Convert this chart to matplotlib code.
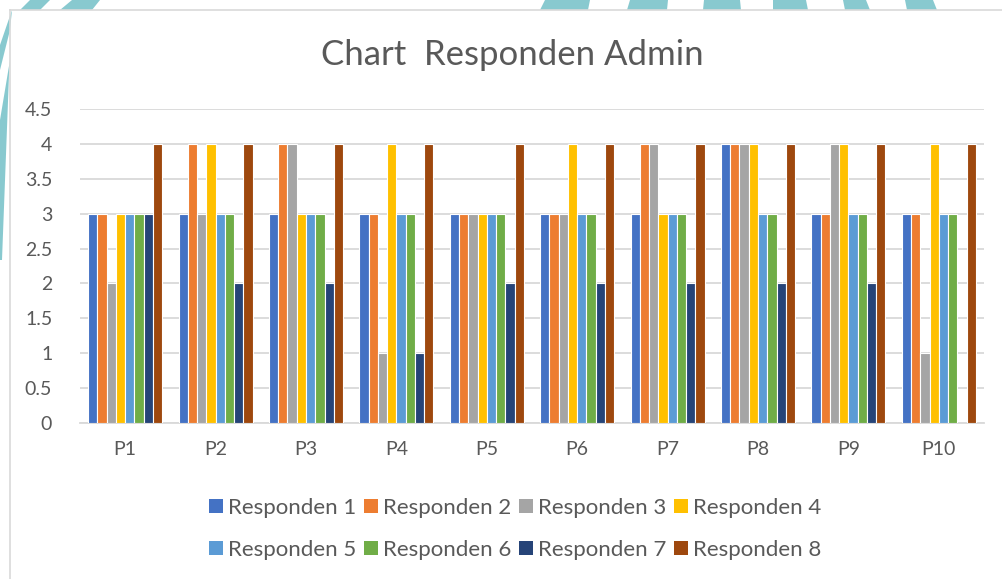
"""Chart Responden Admin: clustered bar chart (Excel style)."""

import matplotlib

matplotlib.use("Agg")
import matplotlib.pyplot as plt
import numpy as np
from matplotlib.patches import Polygon

CATEGORIES = ["P1", "P2", "P3", "P4", "P5", "P6", "P7", "P8", "P9", "P10"]
SERIES_NAMES = [f"Responden {i}" for i in range(1, 9)]

RESPONDEN_1 = [3, 3, 3, 3, 3, 3, 3, 4, 3, 3]
RESPONDEN_2 = [3, 4, 4, 3, 3, 3, 4, 4, 3, 3]
RESPONDEN_3 = [2, 3, 4, 1, 3, 3, 4, 4, 4, 1]
RESPONDEN_4 = [3, 4, 3, 4, 3, 4, 3, 4, 4, 4]
RESPONDEN_5 = [3, 3, 3, 3, 3, 3, 3, 3, 3, 3]
RESPONDEN_6 = [3, 3, 3, 3, 3, 3, 3, 3, 3, 3]
RESPONDEN_7 = [3, 2, 2, 1, 2, 2, 2, 2, 2, 0]
RESPONDEN_8 = [4, 4, 4, 4, 4, 4, 4, 4, 4, 4]

SERIES = [RESPONDEN_1, RESPONDEN_2, RESPONDEN_3, RESPONDEN_4,
          RESPONDEN_5, RESPONDEN_6, RESPONDEN_7, RESPONDEN_8]
COLORS = ["#4472C4", "#ED7D31", "#A5A5A5", "#FFC000",
          "#5B9BD5", "#70AD47", "#264478", "#9E480E"]

TEXT_COLOR = "#595959"
GRID_COLOR = "#D9D9D9"

plt.rcParams["font.family"] = ["Lato", "DejaVu Sans"]

fig = plt.figure(figsize=(10.03, 5.79), dpi=100)

# decorative teal stripes from the page behind the chart
W, H = 1003, 579
stripes = [
    [(20, 10), (30, 0), (50, 0), (40, 10)],
    [(60, 10), (72, 0), (100, 0), (92, 10)],
    [(540, 10), (545, 0), (590, 0), (588, 10)],
    [(627, 10), (630, 0), (668, 0), (667, 10)],
    [(703, 10), (704, 0), (740, 0), (741, 10)],
    [(773, 10), (773, 0), (806, 0), (808, 10)],
    [(845, 10), (843, 0), (866, 0), (870, 10)],
    [(907, 10), (905, 0), (933, 0), (937, 10)],
    [(0, 45), (12, 10), (10, 30), (0, 70)],
    [(0, 120), (10, 60), (9, 75), (2, 260), (0, 260)],
]
for pts in stripes:
    fig.patches.append(Polygon([(x / W, 1 - y / H) for x, y in pts],
                               closed=True, transform=fig.transFigure,
                               facecolor="#6BBCC4", edgecolor="none",
                               alpha=0.8, zorder=0))

# chart frame
fig.add_artist(plt.Line2D([10 / W, 10 / W], [0, 1 - 10 / H],
                          transform=fig.transFigure, color=GRID_COLOR, lw=1.2))
fig.add_artist(plt.Line2D([10 / W, 1], [1 - 10 / H, 1 - 10 / H],
                          transform=fig.transFigure, color=GRID_COLOR, lw=1.2))

ax = fig.add_axes([80 / W, 1 - 423 / H, (984 - 80) / W, (423 - 109) / H])

x = np.arange(len(CATEGORIES))
bar_w = 0.82 / len(SERIES)
for i, (name, values, color) in enumerate(zip(SERIES_NAMES, SERIES, COLORS)):
    ax.bar(x + (i - 3.5) * bar_w, values, width=bar_w, color=color,
           edgecolor="white", linewidth=0.8, label=name, zorder=3)

ax.set_xlim(-0.5, len(CATEGORIES) - 0.5)
ax.set_ylim(0, 4.5)
ax.set_yticks(np.arange(0, 4.51, 0.5))
ax.set_yticklabels(["0", "0.5", "1", "1.5", "2", "2.5", "3", "3.5", "4", "4.5"])
ax.set_xticks(x)
ax.set_xticklabels(CATEGORIES)
ax.grid(axis="y", color=GRID_COLOR, linewidth=1.3, zorder=0)
for side in ["top", "right", "left"]:
    ax.spines[side].set_visible(False)
ax.spines["bottom"].set_color(GRID_COLOR)
ax.spines["bottom"].set_linewidth(1.3)
ax.tick_params(axis="both", length=0, labelsize=14, colors=TEXT_COLOR)
ax.tick_params(axis="x", pad=13)
ax.tick_params(axis="y", pad=20)

fig.text(0.511, 1 - 55 / H, "Chart  Responden Admin", ha="center", va="center",
         fontsize=25, color=TEXT_COLOR)

# Excel fills the legend row by row; matplotlib fills column by column
handles, labels = ax.get_legend_handles_labels()
order = [0, 4, 1, 5, 2, 6, 3, 7]
leg = fig.legend([handles[k] for k in order], [labels[k] for k in order],
                 loc="center", bbox_to_anchor=(0.514, 1 - 529 / H), ncol=4,
                 frameon=False, fontsize=16, handlelength=0.6,
                 handleheight=0.6, handletextpad=0.25, columnspacing=0.35,
                 labelspacing=1.0)
for text in leg.get_texts():
    text.set_color(TEXT_COLOR)
for handle in leg.legend_handles:
    handle.set_edgecolor("none")

fig.savefig("out.png", dpi=100)
